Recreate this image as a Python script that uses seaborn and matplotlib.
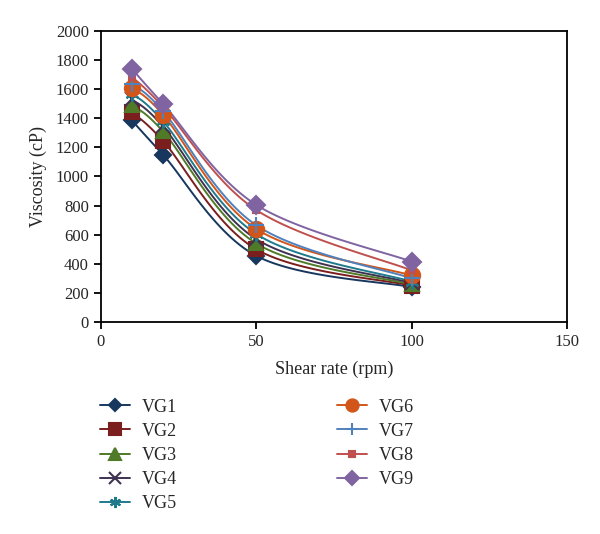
import numpy as np
import pandas as pd
import matplotlib
matplotlib.use("Agg")
import matplotlib.pyplot as plt
import seaborn as sns

shear = [10, 20, 50, 100]
series_names = ["VG1", "VG2", "VG3", "VG4", "VG5", "VG6", "VG7", "VG8", "VG9"]
vg1 = [1385, 1150, 455, 240]
vg2 = [1440, 1245, 500, 250]
vg3 = [1490, 1310, 540, 258]
vg4 = [1530, 1345, 570, 268]
vg5 = [1570, 1380, 605, 278]
vg6 = [1610, 1425, 640, 320]
vg7 = [1635, 1450, 665, 300]
vg8 = [1685, 1480, 770, 355]
vg9 = [1740, 1500, 805, 415]
values = [vg1, vg2, vg3, vg4, vg5, vg6, vg7, vg8, vg9]

colors = ["#17375E", "#7B1E1E", "#4F7A28", "#3F3151", "#1F7A8C",
          "#D2561A", "#4F81BD", "#C0504D", "#8064A2"]
markers = ["D", "s", "^", "x", (6, 2, 0), "o", "+", "s", "D"]
msizes = [8, 10, 10, 10, 10, 11, 11, 5, 9.5]

sns.set_style("white")
plt.rcParams["font.family"] = ["Liberation Serif", "DejaVu Serif"]

fig = plt.figure(figsize=(6, 5.34), dpi=100)
ax = fig.add_axes([0.168, 0.397, 0.777, 0.545])

xsc, ysc = 3.11, 0.1455  # approx px per unit for smoothing in screen space


def smooth(xs, ys, n=30):
    P = np.column_stack([np.array(xs) * xsc, np.array(ys) * ysc])
    out = [P[0]]
    m = len(P)
    for i in range(m - 1):
        p0 = P[i - 1] if i > 0 else P[i]
        p1, p2 = P[i], P[i + 1]
        p3 = P[i + 2] if i + 2 < m else P[i + 1]
        c1 = p1 + (p2 - p0) / 6.0
        c2 = p2 - (p3 - p1) / 6.0
        t = np.linspace(0, 1, n)[1:, None]
        B = ((1 - t) ** 3) * p1 + 3 * ((1 - t) ** 2) * t * c1 + 3 * (1 - t) * t ** 2 * c2 + t ** 3 * p2
        out.extend(B)
    out = np.array(out)
    return out[:, 0] / xsc, out[:, 1] / ysc


handles = []
for name, vals, c, mk, ms in zip(series_names, values, colors, markers, msizes):
    sx, sy = smooth(shear, vals)
    df_line = pd.DataFrame({"x": sx, "y": sy})
    sns.lineplot(data=df_line, x="x", y="y", color=c, lw=1.4, sort=False,
                 estimator=None, ax=ax, legend=False)
    df_pts = pd.DataFrame({"x": shear, "y": vals})
    ax.plot(df_pts["x"], df_pts["y"], linestyle="none", marker=mk, ms=ms,
            color=c, mec=c, mew=1.5, zorder=3)
    h, = ax.plot([], [], color=c, lw=1.4, marker=mk, ms=ms * 0.8, mec=c, mew=1.5, label=name)
    handles.append(h)

if ax.get_legend() is not None:
    ax.get_legend().remove()

ax.set_xlim(0, 150)
ax.set_ylim(0, 2000)
ax.set_xticks([0, 50, 100, 150])
ax.set_yticks(range(0, 2001, 200))
for s in ax.spines.values():
    s.set_color("black")
    s.set_linewidth(1.3)
ax.tick_params(axis="both", direction="out", length=5, width=1.3, color="black",
               labelsize=12, left=True, bottom=True)
ax.set_xlabel("Shear rate (rpm)", fontsize=13, labelpad=8)
ax.set_ylabel("Viscosity (cP)", fontsize=13, labelpad=6)
ax.grid(False)

labels = series_names
fig.legend(handles[:5], labels[:5], loc="upper left",
           bbox_to_anchor=(0.14, 0.284), frameon=False, fontsize=13,
           handlelength=1.65, labelspacing=0.4, handletextpad=0.65)
fig.legend(handles[5:], labels[5:], loc="upper left",
           bbox_to_anchor=(0.535, 0.284), frameon=False, fontsize=13,
           handlelength=1.65, labelspacing=0.4, handletextpad=0.65)

fig.savefig("out.png", dpi=100)
